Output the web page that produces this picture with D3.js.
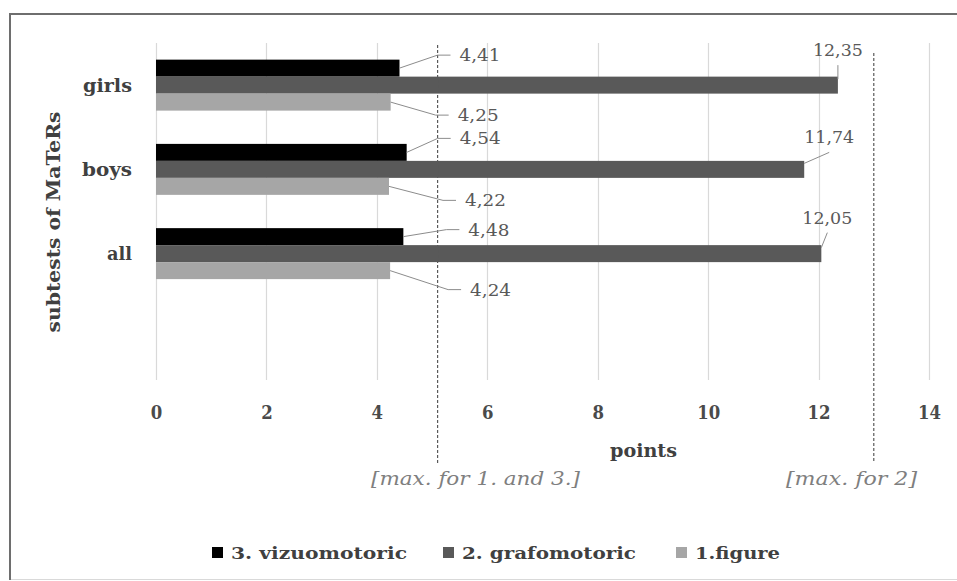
<!DOCTYPE html>
<html>
<head>
<meta charset="utf-8">
<script src="https://cdn.jsdelivr.net/npm/d3@7/dist/d3.min.js"></script>
<style>
  html, body { margin: 0; padding: 0; background: #ffffff; }
  svg { display: block; }
</style>
</head>
<body>
<svg id="chart" width="957" height="581"></svg>
<script>
// Categories (bottom band is left empty, as in the source sheet)
const categories = ["girls", "boys", "all", ""];
// Series, listed top-to-bottom within each category band
const seriesKeys = ["vizuo", "grafo", "figure"];
const seriesNames = ["3. vizuomotoric", "2. grafomotoric", "1.figure"];
const vizuomotoric = [4.41, 4.54, 4.48];
const grafomotoric = [12.35, 11.74, 12.05];
const figure = [4.25, 4.22, 4.24];
const xTicks = [0, 2, 4, 6, 8, 10, 12, 14];
// Reference lines: maximum score of the subtests
const maxLineValues = [5.1, 13];
const maxLineLabels = ["[max. for 1. and 3.]", "[max. for 2]"];

const seriesValues = { vizuo: vizuomotoric, grafo: grafomotoric, figure: figure };
const seriesColors = { vizuo: "#000000", grafo: "#595959", figure: "#a6a6a6" };

const FONT = "'DejaVu Serif', 'Liberation Serif', serif";

// Data-label placement (offsets from the bar end, in px)
const labelLayout = {
  vizuo:  { side: true,  off: [[60, -13], [53, -14], [65, -7]] },
  figure: { side: true,  off: [[67, 13], [76, 14], [80, 19]] },
  grafo:  { side: false, off: [[0, -35], [25, -32], [6, -36]] }
};

const svg = d3.select("#chart");
const plot = { left: 156, right: 929, top: 43, bottom: 380 };

const x = d3.scaleLinear().domain([0, 14]).range([plot.left, plot.right]);
const y0 = d3.scaleBand().domain(categories).range([plot.top, plot.bottom])
  .paddingInner(0.395).paddingOuter(0.1975);
const y1 = d3.scaleBand().domain(seriesKeys).range([0, y0.bandwidth()]);

const fmt = v => d3.format(".2f")(v).replace(".", ",");
function fitTo(sel, width) {
  sel.attr("textLength", width).attr("lengthAdjust", "spacingAndGlyphs");
}

// Chart frame
svg.append("rect").attr("x", 0).attr("y", 0).attr("width", 957).attr("height", 581).attr("fill", "#ffffff");
svg.append("line").attr("x1", 10).attr("x2", 957).attr("y1", 579.5).attr("y2", 579.5)
  .attr("stroke", "#d9d9d9").attr("stroke-width", 1);
svg.append("line").attr("x1", 9).attr("x2", 957).attr("y1", 14).attr("y2", 14)
  .attr("stroke", "#6e6e6e").attr("stroke-width", 2);
svg.append("line").attr("x1", 10).attr("x2", 10).attr("y1", 13).attr("y2", 580)
  .attr("stroke", "#6e6e6e").attr("stroke-width", 2);

// Vertical gridlines
svg.append("g").selectAll("line").data(xTicks).join("line")
  .attr("x1", d => Math.round(x(d)) + 0.5).attr("x2", d => Math.round(x(d)) + 0.5)
  .attr("y1", plot.top).attr("y2", plot.bottom)
  .attr("stroke", "#d9d9d9").attr("stroke-width", 1.2);

// X tick labels
const xAxis = d3.axisBottom(x).tickValues(xTicks).tickSize(0).tickPadding(0).tickFormat(d3.format("d"));
const gx = svg.append("g").attr("transform", `translate(0,${413})`).call(xAxis);
gx.select(".domain").remove();
gx.selectAll("text")
  .attr("dy", "0.35em").attr("y", 0)
  .style("font-family", FONT).style("font-size", "18px").style("font-weight", "bold")
  .attr("fill", "#4a4a4a")
  .each(function (d) { d3.select(this).attr("textLength", String(d).length * 11.5).attr("lengthAdjust", "spacingAndGlyphs"); });

// Bars
const groups = svg.append("g").selectAll("g")
  .data(categories.filter(c => c !== ""))
  .join("g")
  .attr("transform", d => `translate(0,${y0(d)})`);
groups.selectAll("rect")
  .data((c) => seriesKeys.map(k => ({ key: k, value: seriesValues[k][categories.indexOf(c)] })))
  .join("rect")
  .attr("x", x(0))
  .attr("y", d => y1(d.key))
  .attr("width", d => x(d.value) - x(0))
  .attr("height", y1.bandwidth())
  .attr("fill", d => seriesColors[d.key]);

// Reference (max) lines
const maxTop = [45, 53];
maxLineValues.forEach((v, i) => {
  svg.append("line")
    .attr("x1", x(v)).attr("x2", x(v))
    .attr("y1", maxTop[i]).attr("y2", 463)
    .attr("stroke", "#595959").attr("stroke-width", 1.2).attr("stroke-dasharray", "3,2");
});
const maxLabelX = [371, 786];
const maxLabelW = [209, 131];
maxLineLabels.forEach((t, i) => {
  const tx = svg.append("text")
    .attr("x", maxLabelX[i]).attr("y", 479).attr("dy", "0.35em")
    .style("font-family", FONT).style("font-size", "18px").style("font-style", "italic")
    .attr("fill", "#7f7f7f").text(t);
  fitTo(tx, maxLabelW[i]);
});

// Data labels with leader lines
const labelG = svg.append("g");
seriesKeys.forEach(k => {
  const lay = labelLayout[k];
  seriesValues[k].forEach((v, ci) => {
    const c = categories[ci];
    const bx = x(v);
    const by = y0(c) + y1(k) + y1.bandwidth() / 2;
    const tx = bx + lay.off[ci][0];
    const ty = by + lay.off[ci][1];
    let pts;
    if (lay.side) {
      pts = [[bx, by], [tx - 22, ty], [tx - 9, ty]];
    } else {
      pts = [[bx, by - 6], [tx, ty + 15]];
    }
    labelG.append("path")
      .attr("d", d3.line()(pts))
      .attr("fill", "none").attr("stroke", "#8c8c8c").attr("stroke-width", 1);
    const t = labelG.append("text")
      .attr("x", tx).attr("y", ty).attr("dy", "0.35em")
      .attr("text-anchor", lay.side ? "start" : "middle")
      .style("font-family", FONT).style("font-size", "17px")
      .attr("fill", "#595959").text(fmt(v));
    fitTo(t, fmt(v).length === 4 ? 41 : 50);
  });
});

// Category labels
const catW = { girls: 49, boys: 50, all: 25 };
const gy = svg.append("g");
categories.filter(c => c !== "").forEach(c => {
  const t = gy.append("text")
    .attr("x", 132).attr("y", y0(c) + y0.bandwidth() / 2).attr("dy", "0.35em")
    .attr("text-anchor", "end")
    .style("font-family", FONT).style("font-size", "19px").style("font-weight", "bold")
    .attr("fill", "#404040").text(c);
  fitTo(t, catW[c]);
});

// Axis titles
const yTitle = svg.append("text")
  .attr("transform", "translate(53,222) rotate(-90)")
  .attr("dy", "0.35em").attr("text-anchor", "middle")
  .style("font-family", FONT).style("font-size", "19px").style("font-weight", "bold")
  .attr("fill", "#404040").text("subtests of MaTeRs");
fitTo(yTitle, 221);

const xTitle = svg.append("text")
  .attr("x", 610).attr("y", 450).attr("dy", "0.35em")
  .style("font-family", FONT).style("font-size", "19px").style("font-weight", "bold")
  .attr("fill", "#404040").text("points");
fitTo(xTitle, 67);

// Legend
const legendX = [212, 443, 676];
const legendW = [176, 174, 85];
const legend = svg.append("g");
seriesKeys.forEach((k, i) => {
  legend.append("rect")
    .attr("x", legendX[i]).attr("y", 547).attr("width", 11).attr("height", 11)
    .attr("fill", seriesColors[k]);
  const t = legend.append("text")
    .attr("x", legendX[i] + 19).attr("y", 553).attr("dy", "0.35em")
    .style("font-family", FONT).style("font-size", "17px").style("font-weight", "bold")
    .attr("fill", "#404040").text(seriesNames[i]);
  fitTo(t, legendW[i]);
});
</script>
</body>
</html>
